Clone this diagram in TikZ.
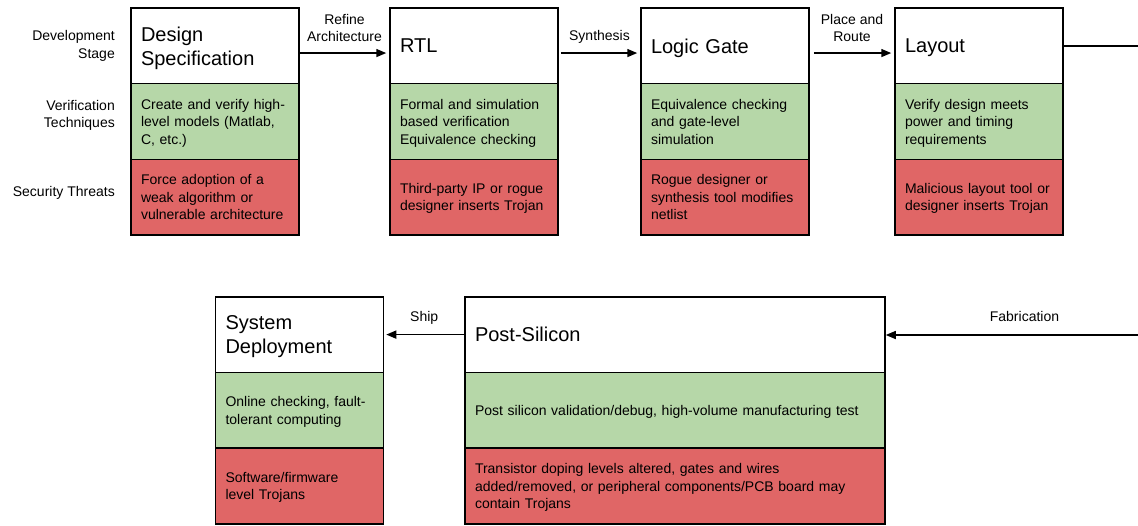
\documentclass[tikz,border=0pt]{standalone}
\usepackage{fontspec}
\setmainfont{Liberation Sans}
\usetikzlibrary{arrows.meta}
\definecolor{vgreen}{HTML}{B6D7A8}
\definecolor{tred}{HTML}{E06666}
\tikzset{
  cell/.style={draw=black, line width=1.5pt, minimum width=168pt, minimum height=75.67pt,
    text width=148pt, inner xsep=10pt, inner ysep=0pt, align=left,
    execute at end node={\par\kern-\prevdepth},
    font=\fontsize{14}{17.5}\selectfont},
  stage/.style={cell, fill=white, font=\fontsize{20}{24}\selectfont},
  check/.style={cell, fill=vgreen},
  threat/.style={cell, fill=tred},
  wide/.style={minimum width=420pt, text width=400pt},
  arr/.style={line width=1.5pt, -{Triangle[length=10pt,width=8pt]}},
  conn/.style={line width=1.5pt},
  elbl/.style={font=\fontsize{14}{17}\selectfont, align=center, inner sep=0pt, text depth=0pt},
  rowlbl/.style={font=\fontsize{14}{17.5}\selectfont, align=right, anchor=east, inner sep=0pt}
}
\begin{document}
\begin{tikzpicture}[x=1pt, y=-1pt]
\useasboundingbox (0,0) rectangle (1138,525);

% row captions
\node[rowlbl] (cap-dev) at (115,46) {Development\\Stage};
\node[rowlbl] (cap-ver) at (115,115.5) {Verification\\Techniques};
\node[rowlbl] (cap-sec) at (115,193) {Security Threats};

% design specification
\node[stage]  (ds-t) at (215,45.83)  {Design\\Specification};
\node[check]  (ds-v) at (215,121.5)  {Create and verify high-\\level models (Matlab,\\C, etc.)};
\node[threat] (ds-s) at (215,197.17) {Force adoption of a\\weak algorithm or\\vulnerable architecture};

% RTL
\node[stage]  (rtl-t) at (474,45.83)  {RTL};
\node[check]  (rtl-v) at (474,121.5)  {Formal and simulation\\based verification\\Equivalence checking};
\node[threat] (rtl-s) at (474,197.17) {Third-party IP or rogue\\designer inserts Trojan};

% logic gate
\node[stage]  (lg-t) at (725,45.83)  {Logic Gate};
\node[check]  (lg-v) at (725,121.5)  {Equivalence checking\\and gate-level\\simulation};
\node[threat] (lg-s) at (725,197.17) {Rogue designer or\\synthesis tool modifies\\netlist};

% layout
\node[stage]  (lay-t) at (979,45.83)  {Layout};
\node[check]  (lay-v) at (979,121.5)  {Verify design meets\\power and timing\\requirements};
\node[threat] (lay-s) at (979,197.17) {Malicious layout tool or\\designer inserts Trojan};

% post-silicon
\node[stage, wide]  (ps-t) at (675,334.6) {Post-Silicon};
\node[check, wide]  (ps-v) at (675,410.3)  {Post silicon validation/debug, high-volume manufacturing test};
\node[threat, wide] (ps-s) at (675,486) {Transistor doping levels altered, gates and wires\\added/removed, or peripheral components/PCB board may\\contain Trojans};

% system deployment
\node[stage]  (sd-t) at (299.5,334.6) {System\\Deployment};
\node[check]  (sd-v) at (299.5,410.3)  {Online checking, fault-\\tolerant computing};
\node[threat] (sd-s) at (299.5,486) {Software/firmware\\level Trojans};

% flow between stages
\draw[arr, shorten >=3pt] ([yshift=-7.2pt]ds-t.east) -- node[elbl, above=10.5pt] (l-refine) {Refine\\Architecture} ([yshift=-7.2pt]rtl-t.west);
\draw[arr, shorten >=3pt, shorten <=2pt] ([yshift=-7.2pt]rtl-t.east) -- node[elbl, above=12pt] (l-syn) {Synthesis} ([yshift=-7.2pt]lg-t.west);
\draw[arr, shorten >=3pt, shorten <=4pt] ([yshift=-7.2pt]lg-t.east) -- node[elbl, above=10.5pt] (l-pr) {Place and\\Route} ([yshift=-7.2pt]lay-t.west);

\coordinate (lay-out) at (1138,45.83);
\draw[conn] (lay-t.east) -- (lay-out);

\coordinate (fab-in) at (1138,335);
\draw[arr] (fab-in) -- node[elbl, pos=0.45, above=13pt] (l-fab) {Fabrication} (ps-t.east |- fab-in);

\draw[arr, shorten >=2pt] (ps-t.west |- 0,334.6) -- node[elbl, above=12pt] (l-ship) {Ship} (sd-t.east |- 0,334.6);
\end{tikzpicture}
\end{document}
